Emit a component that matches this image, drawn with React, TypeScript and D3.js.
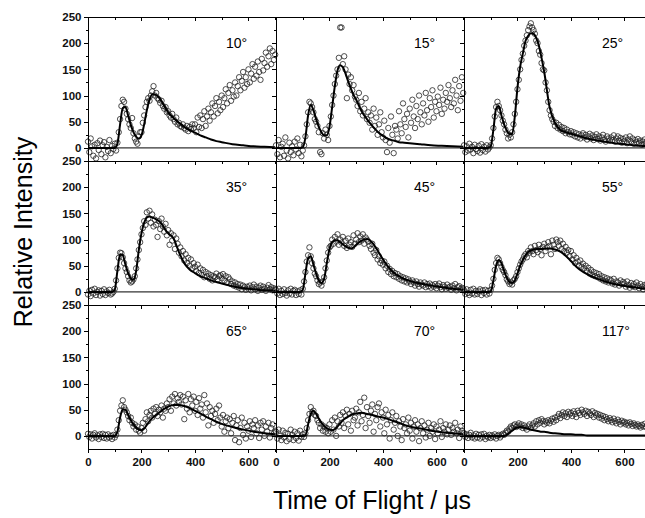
import React, { useRef, useEffect } from "react";
import * as d3 from "d3";

const angleLabels = ["10°", "15°", "25°", "35°", "45°", "55°", "65°", "70°", "117°"];
const xTickLabels = [0, 200, 400, 600];
const xMinorTicks = [100, 300, 500, 700];
const yTickLabels = [0, 50, 100, 150, 200, 250];
const yMinorTicks = [25, 75, 125, 175, 225];

// time-of-flight channels of the measured points (µs)
const tofChannels = [
  0, 5, 10, 15, 20, 25, 30, 35, 40, 45,
  50, 55, 60, 65, 70, 75, 80, 85, 90, 95,
  100, 105, 110, 115, 120, 125, 130, 135, 140, 145,
  150, 155, 160, 165, 170, 175, 180, 185, 190, 195,
  200, 205, 210, 215, 220, 225, 230, 235, 240, 245,
  250, 255, 260, 265, 270, 275, 280, 285, 290, 295,
  300, 305, 310, 315, 320, 325, 330, 335, 340, 345,
  350, 355, 360, 365, 370, 375, 380, 385, 390, 395,
  400, 405, 410, 415, 420, 425, 430, 435, 440, 445,
  450, 455, 460, 465, 470, 475, 480, 485, 490, 495,
  500, 505, 510, 515, 520, 525, 530, 535, 540, 545,
  550, 555, 560, 565, 570, 575, 580, 585, 590, 595,
  600, 605, 610, 615, 620, 625, 630, 635, 640, 645,
  650, 655, 660, 665, 670, 675, 680, 685, 690, 695,
  700,
];

const counts10 = [
  12, -8, 18, 3, -15, 6, -20, 9, -4, 14,
  -12, 5, 11, -18, 2, -6, 15, -10, 4, -2,
  8, -5, 10, 30, 55, 80, 92, 88, 75, 65,
  55, 45, 38, 57, 28, 18, 12, 8, 22, 30,
  30, 48, 62, 78, 88, 95, 90, 100, 108, 118,
  100, 105, 95, 92, 86, 90, 80, 75, 78, 68,
  70, 62, 58, 65, 55, 50, 58, 45, 48, 42,
  40, 45, 38, 35, 42, 32, 40, 36, 45, 38,
  45, 30, 58, 40, 62, 38, 55, 70, 42, 60,
  75, 52, 68, 85, 60, 80, 95, 66, 88, 72,
  100, 78, 95, 112, 85, 105, 120, 90, 110, 98,
  125, 100, 118, 135, 110, 128, 145, 115, 135, 122,
  150, 125, 142, 160, 132, 155, 138, 165, 145, 130,
  170, 148, 162, 182, 155, 175, 190, 160, 185, 168,
  178,
];
const counts15 = [
  5, -12, 15, -18, 2, 8, -15, 20, -5, -20,
  10, -8, 3, -14, 12, -3, 18, -10, 6, -16,
  -5, 5, 22, 45, 68, 88, 85, 78, 68, 55,
  50, 42, 30, -8, -12, 28, 18, 35, 25, 15,
  42, 60, 82, 100, 122, 138, 150, 172, 230, 230,
  160, 175, 150, 95, 140, 122, 135, 110, 120, 98,
  92, 80, 105, 70, 88, 62, 75, 95, 55, 68,
  48, 62, 35, 75, 42, 58, 25, 45, 68, 30,
  20, 52, 15, -8, 38, 10, 60, 25, -10, 42,
  35, 18, 70, 45, 28, 85, 55, 40, 65, 20,
  75, 48, 92, 60, 38, 80, 55, 100, 68, 45,
  85, 62, 105, 72, 50, 95, 78, 110, 58, 88,
  70, 98, 82, 115, 65, 92, 75, 105, 88, 120,
  95, 78, 110, 85, 130, 100, 72, 118, 90, 135,
  105,
];
const counts25 = [
  5, -8, 3, -5, 8, -3, 2, -10, 6, -2,
  -6, 4, -9, 7, -4, 2, -7, 5, -3, 1,
  5, 18, 38, 60, 78, 88, 80, 72, 62, 52,
  45, 35, 28, 18, 25, 20, 30, 45, 65, 88,
  112, 130, 150, 168, 180, 195, 205, 215, 225, 232,
  238, 230, 225, 218, 205, 200, 185, 178, 162, 150,
  148, 125, 110, 88, 72, 62, 55, 50, 42, 48,
  38, 44, 35, 40, 32, 38, 28, 35, 30, 26,
  32, 25, 30, 22, 28, 20, 26, 18, 24, 28,
  20, 25, 16, 22, 27, 18, 24, 15, 21, 26,
  17, 22, 14, 20, 25, 16, 12, 22, 18, 14,
  20, 15, 24, 12, 18, 22, 14, 19, 10, 17,
  13, 20, 9, 16, 22, 12, 18, 8, 15, 11,
  17, 10, 14, 6, 12, 16, 9, 13, 7, 11,
  8,
];
const counts35 = [
  -5, 2, -8, 4, -3, 6, -6, 0, 3, -7,
  2, -4, 5, -6, 1, -2, 4, -5, -3, 0,
  6, 22, 45, 65, 75, 74, 66, 55, 45, 38,
  30, 22, 18, 20, 24, 30, 45, 62, 80, 95,
  110, 122, 135, 128, 152, 140, 155, 132, 148, 125,
  138, 128, 105, 135, 120, 140, 125, 115, 130, 108,
  118, 90, 112, 98, 108, 82, 102, 92, 75, 85,
  68, 78, 60, 72, 55, 65, 50, 62, 45, 55,
  48, 40, 52, 36, 45, 32, 42, 28, 38, 30,
  35, 25, 32, 22, 30, 28, 35, 24, 30, 32,
  26, 34, 22, 30, 18, 28, 24, 15, 20, 12,
  18, 10, 15, 8, 14, 5, 12, 9, 4, 10,
  6, 12, 3, 9, 14, 5, 10, 2, 8, 12,
  4, 10, 6, 2, 8, 13, 5, 9, 3, 7,
  5,
];
const counts45 = [
  4, -3, 6, -6, 2, -4, 5, -2, -7, 3,
  -3, 6, -5, 2, 4, -6, 1, -4, 3, -5,
  6, 20, 38, 58, 70, 85, 68, 55, 45, 35,
  30, 22, 15, 18, 12, 20, 28, 45, 60, 75,
  85, 88, 100, 92, 105, 96, 110, 90, 100, 94,
  105, 88, 98, 84, 102, 90, 95, 86, 108, 92,
  100, 112, 95, 106, 98, 110, 92, 104, 100, 96,
  88, 82, 92, 75, 70, 80, 62, 68, 55, 60,
  52, 58, 45, 50, 38, 44, 34, 40, 30, 36,
  28, 34, 25, 30, 22, 28, 20, 26, 18, 24,
  20, 15, 22, 18, 12, 20, 15, 10, 18, 14,
  12, 18, 9, 15, 11, 16, 8, 13, 10, 15,
  7, 12, 16, 9, 5, 13, 10, 6, 14, 8,
  10, 4, 12, 7, 15, 3, 9, 11, 5, 8,
  6,
];
const counts55 = [
  3, -4, 5, -2, -6, 4, -3, 6, -5, 2,
  -4, 1, 5, -6, 3, -2, 4, -5, 2, -3,
  4, 12, 25, 42, 55, 65, 62, 55, 48, 42,
  38, 32, 24, 20, 15, 18, 14, 22, 25, 30,
  38, 45, 52, 58, 62, 68, 72, 66, 78, 75,
  85, 78, 72, 88, 80, 76, 90, 82, 70, 86,
  92, 78, 85, 95, 88, 72, 98, 90, 82, 100,
  95, 88, 98, 82, 92, 78, 86, 75, 80, 68,
  78, 62, 70, 55, 65, 58, 50, 60, 48, 54,
  45, 50, 40, 46, 35, 42, 32, 38, 30, 36,
  28, 34, 25, 30, 22, 28, 20, 26, 18, 24,
  22, 16, 25, 14, 20, 18, 12, 22, 15, 19,
  16, 10, 20, 13, 8, 17, 11, 15, 9, 18,
  12, 7, 15, 10, 5, 13, 8, 16, 6, 11,
  9,
];
const counts65 = [
  4, -2, 3, -5, 2, 5, -3, 1, -6, 3,
  -2, 4, -4, 2, -5, 3, -3, 0, -6, 2,
  -3, 2, 12, 30, 48, 58, 68, 55, 50, 45,
  38, 30, 35, 25, 18, 22, 12, 18, 10, 6,
  15, 25, 10, 32, 45, 28, 40, 48, 35, 52,
  42, 55, 38, 50, 45, 58, 35, 52, 48, 62,
  55, 70, 48, 75, 62, 80, 58, 72, 65, 78,
  60, 75, 32, 68, 52, 80, 45, 70, 58, 75,
  48, 65, 40, 72, 52, 60, 35, 78, 45, 62,
  20, 55, 38, 48, 25, 42, 52, 30, 58, 35,
  18, 40, 8, 28, 35, 15, 32, 5, 25, 38,
  -8, 20, 30, -12, 15, 35, 2, 25, -5, 18,
  10, 28, -2, 22, 15, 30, 5, 20, -4, 25,
  12, 28, 0, 18, 8, 25, -3, 15, 22, 5,
  10,
];
const counts70 = [
  8, -5, 12, 0, -8, 10, -3, 6, -10, 4,
  -6, 12, 2, -8, 8, -4, 5, -9, 10, -2,
  3, -2, 5, 15, 30, 42, 55, 45, 48, 40,
  38, 30, 25, 15, 22, 10, 18, 8, 15, 5,
  22, 8, 30, 12, 35, 0, 28, 18, 40, 25,
  45, 15, 38, 50, 22, 42, 10, 48, 30, 35,
  52, 20, 45, 65, 28, 40, 73, 15, 55, 38,
  25, 48, 60, 8, 42, 30, 55, 62, 18, 45,
  35, 5, 50, 22, 40, -5, 30, 45, 12, 25,
  38, 0, 28, 18, -8, 32, 15, 22, 5, 35,
  10, 25, -5, 18, 30, 8, 22, -10, 15, 28,
  5, 20, -3, 12, 25, 0, 15, 8, 22, -6,
  18, 5, 12, 28, -2, 15, 8, 22, 3, 12,
  20, 2, 15, 8, 25, 5, 12, -4, 18, 10,
  6,
];
const counts117 = [
  5, -2, 3, -4, 2, 6, -3, 1, -5, 4,
  -3, 2, -5, 3, -2, 4, -6, 0, -3, 2,
  -4, 1, -2, 3, -5, 0, 2, -3, 1, 4,
  2, 6, 10, 8, 14, 18, 15, 20, 22, 17,
  20, 24, 18, 22, 15, 20, 16, 12, 18, 22,
  15, 20, 24, 18, 28, 22, 30, 25, 32, 28,
  22, 28, 25, 30, 24, 29, 33, 27, 35, 30,
  37, 42, 34, 40, 45, 38, 43, 36, 46, 41,
  44, 38, 47, 42, 36, 48, 44, 40, 50, 45,
  42, 48, 38, 46, 43, 40, 47, 36, 44, 39,
  42, 35, 40, 33, 38, 30, 36, 32, 28, 34,
  30, 26, 33, 28, 24, 31, 27, 22, 29, 25,
  27, 22, 25, 20, 26, 23, 19, 24, 21, 18,
  22, 19, 16, 21, 18, 23, 17, 20, 15, 19,
  17,
];

// fitted curves, sampled on a coarser time grid
const fitTimes = [
  0, 20, 40, 60, 80, 90, 100,
  110, 120, 130, 140, 150, 160, 170, 180, 190, 200,
  210, 220, 230, 240, 250, 260, 270, 280, 290, 300,
  320, 340, 360, 380, 400, 420, 440, 460, 480, 500,
  540, 580, 620, 660, 700,
];
const fit10 = [0, 0, 0, 0, 0, 0, 0, 8, 45, 76, 78, 62, 44, 30, 21, 18, 24, 45, 72, 92, 102, 102, 99, 93, 85, 76, 68, 57, 48, 40, 34, 29, 24, 20, 16, 13, 11, 7, 5, 3, 2, 1];
const fit15 = [0, 0, 0, 0, 0, 0, 1, 20, 62, 82, 72, 55, 40, 30, 24, 24, 40, 78, 118, 148, 158, 154, 142, 127, 113, 101, 92, 70, 55, 42, 31, 23, 17, 14, 11, 10, 9, 7, 5, 4, 3, 2];
const fit25 = [0, 0, 0, 0, 0, 0, 3, 35, 75, 80, 62, 45, 33, 26, 27, 60, 115, 155, 180, 204, 214, 219, 218, 210, 195, 172, 145, 78, 48, 34, 30, 27, 24, 21, 18, 16, 14, 11, 8, 6, 4, 3];
const fit35 = [0, 0, 0, 0, 0, 0, 4, 40, 72, 70, 52, 36, 26, 23, 40, 80, 112, 132, 142, 144, 142, 140, 137, 133, 126, 118, 112, 102, 76, 55, 43, 36, 30, 26, 22, 19, 16, 11, 7, 5, 3, 2];
const fit45 = [0, 0, 0, 0, 0, 0, 4, 35, 64, 68, 52, 35, 22, 17, 25, 55, 82, 95, 98, 98, 95, 91, 87, 84, 83, 85, 90, 98, 101, 94, 79, 62, 48, 37, 30, 25, 21, 16, 12, 9, 6, 4];
const fit55 = [0, 0, 0, 0, 0, 0, 1, 22, 50, 61, 55, 40, 27, 19, 17, 22, 35, 50, 61, 70, 76, 79, 81, 82, 82, 82, 83, 83, 81, 77, 69, 59, 48, 40, 34, 29, 25, 18, 13, 10, 7, 5];
const fit65 = [0, 0, 0, 0, 0, 0, 0, 8, 35, 51, 50, 40, 30, 22, 16, 12, 11, 14, 21, 28, 34, 38, 42, 46, 50, 53, 56, 59, 59, 57, 53, 48, 43, 37, 32, 27, 23, 17, 12, 8, 5, 3];
const fit70 = [0, 0, 0, 0, 0, 0, 0, 1, 22, 42, 48, 42, 33, 25, 19, 15, 12, 11, 13, 18, 24, 30, 34, 37, 40, 42, 43, 44, 42, 40, 37, 35, 32, 28, 25, 21, 18, 14, 10, 7, 5, 3];
const fit117 = [0, 0, 0, 0, 0, 0, 0, 0, 0, 0, 0, 0, 2, 6, 10, 14, 16, 17, 16, 15, 14, 12, 11, 10, 9, 8, 8, 6, 5, 4, 3, 3, 2, 2, 1, 1, 1, 1, 1, 1, 1, 1];

const scans = [counts10, counts15, counts25, counts35, counts45, counts55, counts65, counts70, counts117];
const fits = [fit10, fit15, fit25, fit35, fit45, fit55, fit65, fit70, fit117];

const FONT = "'Liberation Sans', Arial, Helvetica, sans-serif";

export default function App() {
  const svgRef = useRef<SVGSVGElement>(null);

  useEffect(() => {
    const width = 645;
    const height = 518;
    const left = 88;
    const top = 17;
    const panelW = 188;
    const panelH = 144;

    const svg = d3.select(svgRef.current);
    svg.selectAll("*").remove();
    svg.attr("width", width).attr("height", height);

    const x = d3.scaleLinear().domain([0, 703]).range([0, panelW]);
    const y = d3.scaleLinear().domain([-25, 250]).range([panelH, 0]);

    const fitLine = d3
      .line<[number, number]>()
      .x(d => x(d[0]))
      .y(d => y(d[1]))
      .curve(d3.curveMonotoneX);

    const tickStyle = (g, withText) => {
      g.select(".domain").remove();
      g.selectAll("line").attr("stroke", "#000").attr("stroke-width", 1).attr("shape-rendering", "crispEdges");
      if (withText) {
        g.selectAll("text")
          .attr("font-family", FONT)
          .attr("font-size", 11.5)
          .attr("font-weight", "bold")
          .attr("fill", "#111");
      }
    };

    angleLabels.forEach((label, i) => {
      const col = i % 3;
      const row = Math.floor(i / 3);
      const g = svg
        .append("g")
        .attr("transform", `translate(${left + col * panelW},${top + row * panelH})`);

      // zero line
      g.append("line")
        .attr("x1", 0)
        .attr("x2", panelW)
        .attr("y1", y(0))
        .attr("y2", y(0))
        .attr("stroke", "#000")
        .attr("stroke-width", 1);

      // measured points
      g.append("g")
        .selectAll("circle")
        .data(scans[i])
        .enter()
        .append("circle")
        .attr("cx", (d, j) => x(tofChannels[j]))
        .attr("cy", d => y(d))
        .attr("r", 2.7)
        .attr("fill", "none")
        .attr("stroke", "#222")
        .attr("stroke-width", 0.8);

      // fit
      g.append("path")
        .datum(fitTimes.map((t, j) => [t, fits[i][j]] as [number, number]))
        .attr("d", fitLine)
        .attr("fill", "none")
        .attr("stroke", "#000")
        .attr("stroke-width", 2);

      // frame
      g.append("rect")
        .attr("width", panelW)
        .attr("height", panelH)
        .attr("fill", "none")
        .attr("stroke", "#000")
        .attr("stroke-width", 1)
        .attr("shape-rendering", "crispEdges");

      // top ticks (inward)
      g.append("g").call(d3.axisBottom(x).tickValues(xTickLabels).tickSize(4).tickFormat(() => "")).call(gg => tickStyle(gg, false));
      g.append("g").call(d3.axisBottom(x).tickValues(xMinorTicks).tickSize(2.5).tickFormat(() => "")).call(gg => tickStyle(gg, false));

      // bottom ticks (outward)
      const isBottom = row === 2;
      g.append("g")
        .attr("transform", `translate(0,${panelH})`)
        .call(
          d3.axisBottom(x).tickValues(xTickLabels).tickSize(4).tickPadding(4.5)
            .tickFormat(isBottom ? d3.format("d") : () => "")
        )
        .call(gg => tickStyle(gg, true));
      g.append("g")
        .attr("transform", `translate(0,${panelH})`)
        .call(d3.axisBottom(x).tickValues(xMinorTicks).tickSize(2.5).tickFormat(() => ""))
        .call(gg => tickStyle(gg, false));

      // left ticks (outward)
      g.append("g")
        .call(
          d3.axisLeft(y).tickValues(yTickLabels).tickSize(4).tickPadding(2.5)
            .tickFormat(col === 0 ? d3.format("d") : () => "")
        )
        .call(gg => tickStyle(gg, true));
      g.append("g")
        .call(d3.axisLeft(y).tickValues(yMinorTicks).tickSize(2.5).tickFormat(() => ""))
        .call(gg => tickStyle(gg, false));

      // right ticks (inward)
      g.append("g")
        .attr("transform", `translate(${panelW},0)`)
        .call(d3.axisLeft(y).tickValues(yTickLabels).tickSize(4).tickFormat(() => ""))
        .call(gg => tickStyle(gg, false));
      g.append("g")
        .attr("transform", `translate(${panelW},0)`)
        .call(d3.axisLeft(y).tickValues(yMinorTicks).tickSize(2.5).tickFormat(() => ""))
        .call(gg => tickStyle(gg, false));

      // angle label
      g.append("text")
        .attr("x", 138)
        .attr("y", 31)
        .attr("font-family", FONT)
        .attr("font-size", 14)
        .attr("fill", "#000")
        .text(label);
    });

    svg.append("text")
      .attr("transform", "translate(32,232) rotate(-90)")
      .attr("text-anchor", "middle")
      .attr("font-family", FONT)
      .attr("font-size", 25)
      .attr("fill", "#000")
      .text("Relative Intensity");

    svg.append("text")
      .attr("x", 372)
      .attr("y", 509)
      .attr("text-anchor", "middle")
      .attr("font-family", FONT)
      .attr("font-size", 25)
      .attr("fill", "#000")
      .text("Time of Flight / μs");
  }, []);

  return (
    <div style={{ position: "absolute", left: 0, top: 0, background: "#fff" }}>
      <svg ref={svgRef}></svg>
    </div>
  );
}
